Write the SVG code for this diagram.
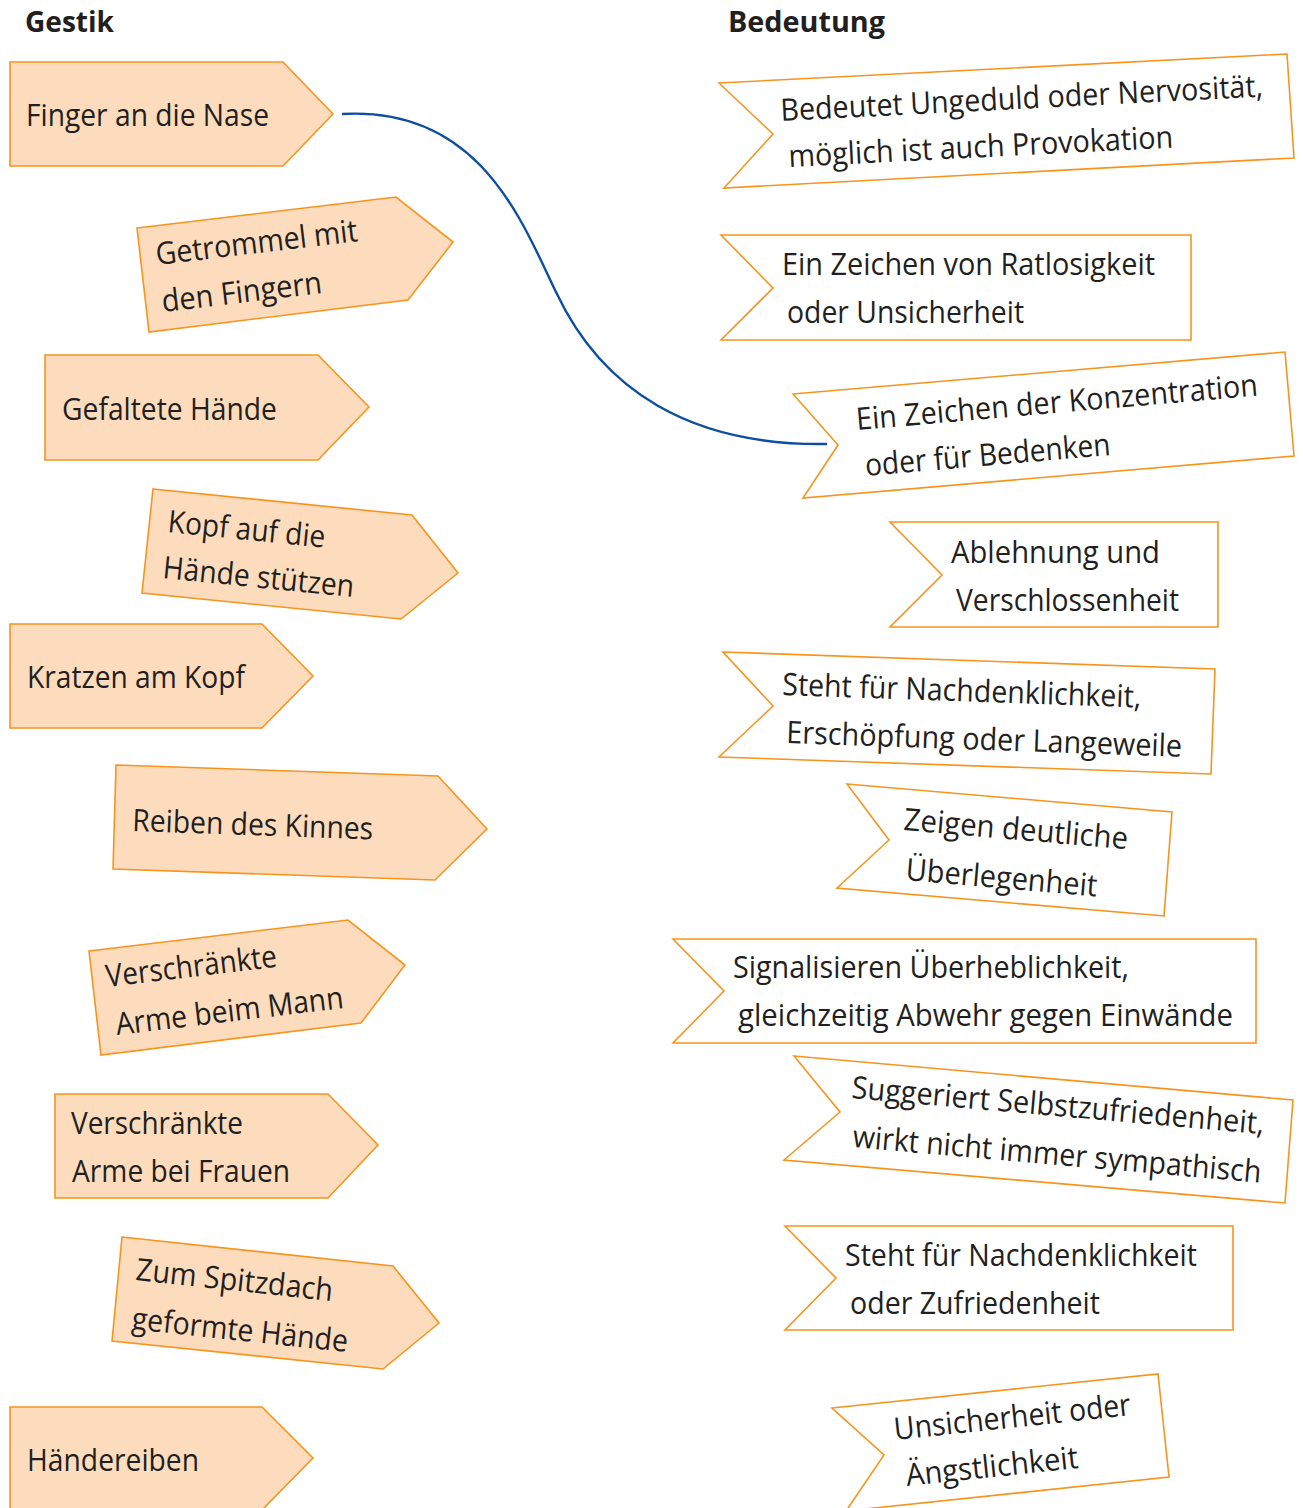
<svg xmlns="http://www.w3.org/2000/svg" width="1303" height="1508" viewBox="0 0 1303 1508">
<style>
.g{fill:#fddcbd;stroke:#f7941d;stroke-width:1.6;stroke-linejoin:miter}
.b{fill:#ffffff;stroke:#f7941d;stroke-width:1.6;stroke-linejoin:miter}
text{font-family:"Open Sans","Noto Sans","Liberation Sans",sans-serif;font-size:31px;fill:#231f20}
.h{font-weight:bold;font-size:28px}
.c{fill:none;stroke:#0d4ea2;stroke-width:2.4}
</style>
<rect width="1303" height="1508" fill="#ffffff"/>
<text class="h" x="25" y="32" textLength="89" lengthAdjust="spacingAndGlyphs">Gestik</text>
<text class="h" x="728" y="32" textLength="157" lengthAdjust="spacingAndGlyphs">Bedeutung</text>

<g id="connectors">
<path class="c" d="M342,114 C480,106 522,222 556,292 C602,390 690,446 827,444"/>
</g>

<g id="g1"><polygon class="g" points="10,62 283,62 333,114 283,166 10,166"/>
<text x="26" y="126" textLength="243" lengthAdjust="spacingAndGlyphs">Finger an die Nase</text></g>

<g id="g2"><polygon class="g" points="137,228 396,197 453,242 408,300 149,332"/>
<g transform="rotate(-6.8 157 265)"><text x="157" y="265" textLength="203" lengthAdjust="spacingAndGlyphs">Getrommel mit</text></g>
<g transform="rotate(-6.8 163 312)"><text x="163" y="312" textLength="161" lengthAdjust="spacingAndGlyphs">den Fingern</text></g></g>

<g id="g3"><polygon class="g" points="45,355 318,355 369,407 318,460 45,460"/>
<text x="62" y="420" textLength="215" lengthAdjust="spacingAndGlyphs">Gefaltete Hände</text></g>

<g id="g4"><polygon class="g" points="153,489 412,515 458,573 401,619 142,593"/>
<g transform="rotate(5.7 167 532)"><text x="167" y="532" textLength="158" lengthAdjust="spacingAndGlyphs">Kopf auf die</text></g>
<g transform="rotate(5.7 162 578)"><text x="162" y="578" textLength="192" lengthAdjust="spacingAndGlyphs">Hände stützen</text></g></g>

<g id="g5"><polygon class="g" points="10,624 262,624 313,676 262,728 10,728"/>
<text x="27" y="688" textLength="218" lengthAdjust="spacingAndGlyphs">Kratzen am Kopf</text></g>

<g id="g6"><polygon class="g" points="116,765 438,776 487,829 435,880 113,869"/>
<g transform="rotate(2 132 831)"><text x="132" y="831" textLength="241" lengthAdjust="spacingAndGlyphs">Reiben des Kinnes</text></g></g>

<g id="g7"><polygon class="g" points="89,951 348,920 405,965 361,1023 101,1055"/>
<g transform="rotate(-6.8 107 987)"><text x="107" y="987" textLength="172" lengthAdjust="spacingAndGlyphs">Verschränkte</text></g>
<g transform="rotate(-6.8 117 1035)"><text x="117" y="1035" textLength="229" lengthAdjust="spacingAndGlyphs">Arme beim Mann</text></g></g>

<g id="g8"><polygon class="g" points="55,1094 328,1094 378,1145 328,1198 55,1198"/>
<text x="71" y="1134" textLength="172" lengthAdjust="spacingAndGlyphs">Verschränkte</text>
<text x="72" y="1182" textLength="218" lengthAdjust="spacingAndGlyphs">Arme bei Frauen</text></g>

<g id="g9"><polygon class="g" points="122,1237 393,1266 439,1323 383,1369 112,1341"/>
<g transform="rotate(6.1 135 1280)"><text x="135" y="1280" textLength="198" lengthAdjust="spacingAndGlyphs">Zum Spitzdach</text></g>
<g transform="rotate(6.1 131 1329)"><text x="131" y="1329" textLength="217" lengthAdjust="spacingAndGlyphs">geformte Hände</text></g></g>

<g id="g10"><polygon class="g" points="10,1407 262,1407 313,1458 262,1510 10,1510"/>
<text x="27" y="1471" textLength="172" lengthAdjust="spacingAndGlyphs">Händereiben</text></g>

<g id="b1"><polygon class="b" points="719,83 1287,54 1294,158 724,188 773,134"/>
<g transform="rotate(-2.9 781 121)"><text x="781" y="121" textLength="483" lengthAdjust="spacingAndGlyphs">Bedeutet Ungeduld oder Nervosität,</text></g>
<g transform="rotate(-2.9 789 167)"><text x="789" y="167" textLength="385" lengthAdjust="spacingAndGlyphs">möglich ist auch Provokation</text></g></g>

<g id="b2"><polygon class="b" points="721,235 1191,235 1191,340 721,340 773,288"/>
<text x="782" y="275" textLength="373" lengthAdjust="spacingAndGlyphs">Ein Zeichen von Ratlosigkeit</text>
<text x="787" y="323" textLength="237" lengthAdjust="spacingAndGlyphs">oder Unsicherheit</text></g>

<g id="b3"><polygon class="b" points="793,394 1285,352 1294,456 803,498 838,445"/>
<g transform="rotate(-4.9 857 430)"><text x="857" y="430" textLength="403" lengthAdjust="spacingAndGlyphs">Ein Zeichen der Konzentration</text></g>
<g transform="rotate(-4.9 866 476)"><text x="866" y="476" textLength="246" lengthAdjust="spacingAndGlyphs">oder für Bedenken</text></g></g>

<g id="b4"><polygon class="b" points="890,522 1218,522 1218,627 890,627 942,575"/>
<text x="951" y="563" textLength="209" lengthAdjust="spacingAndGlyphs">Ablehnung und</text>
<text x="956" y="611" textLength="223" lengthAdjust="spacingAndGlyphs">Verschlossenheit</text></g>

<g id="b5"><polygon class="b" points="723,652 1215,669 1211,774 719,757 773,706"/>
<g transform="rotate(2 782 695)"><text x="782" y="695" textLength="359" lengthAdjust="spacingAndGlyphs">Steht für Nachdenklichkeit,</text></g>
<g transform="rotate(2 786 743)"><text x="786" y="743" textLength="396" lengthAdjust="spacingAndGlyphs">Erschöpfung oder Langeweile</text></g></g>

<g id="b6"><polygon class="b" points="847,784 1172,812 1164,916 837,888 889,840"/>
<g transform="rotate(4.9 903 830)"><text x="903" y="830" textLength="225" lengthAdjust="spacingAndGlyphs">Zeigen deutliche</text></g>
<g transform="rotate(4.9 905 880)"><text x="905" y="880" textLength="192" lengthAdjust="spacingAndGlyphs">Überlegenheit</text></g></g>

<g id="b7"><polygon class="b" points="673,939 1256,939 1256,1043 673,1043 724,991"/>
<text x="733" y="978" textLength="396" lengthAdjust="spacingAndGlyphs">Signalisieren Überheblichkeit,</text>
<text x="738" y="1026" textLength="495" lengthAdjust="spacingAndGlyphs">gleichzeitig Abwehr gegen Einwände</text></g>

<g id="b8"><polygon class="b" points="794,1056 1293,1100 1285,1203 784,1160 840,1112"/>
<g transform="rotate(5 851 1098)"><text x="851" y="1098" textLength="414" lengthAdjust="spacingAndGlyphs">Suggeriert Selbstzufriedenheit,</text></g>
<g transform="rotate(5 852 1147)"><text x="852" y="1147" textLength="410" lengthAdjust="spacingAndGlyphs">wirkt nicht immer sympathisch</text></g></g>

<g id="b9"><polygon class="b" points="785,1226 1233,1226 1233,1330 785,1330 836,1278"/>
<text x="845" y="1266" textLength="352" lengthAdjust="spacingAndGlyphs">Steht für Nachdenklichkeit</text>
<text x="850" y="1314" textLength="250" lengthAdjust="spacingAndGlyphs">oder Zufriedenheit</text></g>

<g id="b10"><polygon class="b" points="832,1408 1158,1374 1169,1477 846,1511 884,1455"/>
<g transform="rotate(-6 895 1440)"><text x="895" y="1440" textLength="238" lengthAdjust="spacingAndGlyphs">Unsicherheit oder</text></g>
<g transform="rotate(-6 907 1486)"><text x="907" y="1486" textLength="173" lengthAdjust="spacingAndGlyphs">Ängstlichkeit</text></g></g>
</svg>
